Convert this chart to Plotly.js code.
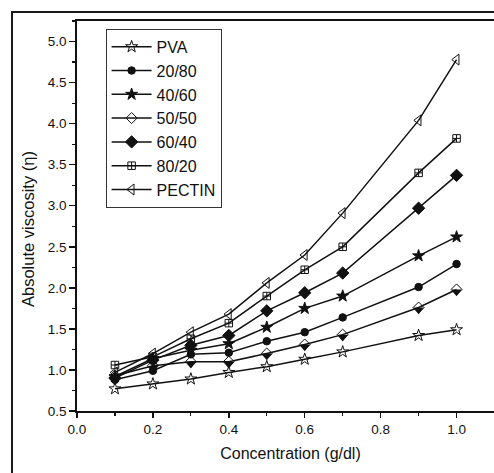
<!DOCTYPE html>
<html>
<head>
<meta charset="utf-8">
<script src="https://cdn.plot.ly/plotly-3.0.1.min.js"></script>
<style>
  html, body { margin: 0; padding: 0; overflow: hidden; background: #fff; width: 494px; height: 473px; }
  #chart { position: absolute; left: 0; top: 0; width: 570px; height: 520px; }
  #frame { position: absolute; left: 11px; top: 11px; width: 600px; height: 600px; border: 2px solid #1a1a1a; pointer-events: none; }
</style>
</head>
<body>
<div id="chart"></div>
<div id="frame"></div>
<script>
// Concentration (g/dl)
const conc = [0.1, 0.2, 0.3, 0.4, 0.5, 0.6, 0.7, 0.9, 1.0];
// Absolute viscosity per blend
const pva    = [0.77, 0.83, 0.89, 0.97, 1.04, 1.13, 1.22, 1.42, 1.49];
const b2080  = [0.88, 0.99, 1.19, 1.21, 1.35, 1.46, 1.64, 2.01, 2.29];
const b4060  = [0.92, 1.14, 1.24, 1.32, 1.52, 1.75, 1.90, 2.39, 2.62];
const b5050  = [0.93, 1.05, 1.10, 1.10, 1.20, 1.31, 1.43, 1.76, 1.98];
const b6040  = [0.90, 1.12, 1.30, 1.42, 1.72, 1.94, 2.18, 2.97, 3.37];
const b8020  = [1.06, 1.16, 1.38, 1.57, 1.90, 2.22, 2.50, 3.40, 3.82];
const pectin = [0.97, 1.20, 1.46, 1.68, 2.06, 2.40, 2.91, 4.04, 4.78];
const seriesNames = ['PVA', '20/80', '40/60', '50/50', '60/40', '80/20', 'PECTIN'];
const xTickLabels = ['0.0', '0.2', '0.4', '0.6', '0.8', '1.0'];
const yTickLabels = ['0.5', '1.0', '1.5', '2.0', '2.5', '3.0', '3.5', '4.0', '4.5', '5.0'];

const FONT = 'Arial, "Liberation Sans", sans-serif';
const BLACK = '#111';

function mk(name, y, symbol, size) {
  return {
    x: conc, y: y, name: name, type: 'scatter', mode: 'lines+markers',
    line: {color: BLACK, width: 1.5},
    marker: {symbol: symbol, size: size, color: BLACK, line: {color: BLACK, width: 1}}
  };
}

const traces = [
  mk(seriesNames[0], pva, 'star-open', 9),
  mk(seriesNames[1], b2080, 'circle', 7.5),
  mk(seriesNames[2], b4060, 'star', 9),
  mk(seriesNames[3], b5050, 'diamond-open', 8.5),
  mk(seriesNames[4], b6040, 'diamond', 9.5),
  mk(seriesNames[5], b8020, 'square-cross-open', 7.5),
  mk(seriesNames[6], pectin, 'triangle-left-open', 9.5)
];
// lower half fill of the 50/50 diamond
traces.push({
  x: conc, y: b5050, type: 'scatter', mode: 'markers', showlegend: false, hoverinfo: 'skip',
  marker: {symbol: 'triangle-down', size: 9, color: BLACK, angle: 0, standoff: 2.3, line: {width: 0}}
});

const layout = {
  width: 570, height: 520,
  margin: {l: 77, r: 66, t: 21, b: 109},
  paper_bgcolor: '#fff', plot_bgcolor: '#fff',
  font: {family: FONT, color: BLACK, size: 13},
  showlegend: true,
  legend: {
    x: 0.067, y: 0.98, xanchor: 'left', yanchor: 'top',
    bordercolor: '#333', borderwidth: 1, bgcolor: '#fff',
    font: {family: FONT, size: 16, color: BLACK},
    itemwidth: 40,
    traceorder: 'normal'
  },
  xaxis: {
    range: [0, 1.125],
    tickvals: [0, 0.2, 0.4, 0.6, 0.8, 1.0], ticktext: xTickLabels,
    ticks: 'outside', ticklen: 5, tickwidth: 1.5, tickcolor: BLACK,
    minor: {dtick: 0.1, tick0: 0, ticks: 'outside', ticklen: 3, tickwidth: 1.2, tickcolor: BLACK},
    showline: true, linecolor: BLACK, linewidth: 1.8, mirror: true,
    showgrid: false, zeroline: false,
    tickfont: {family: FONT, size: 13.5, color: BLACK},
    title: {text: 'Concentration (g/dl)', font: {family: FONT, size: 16, color: BLACK}, standoff: 12}
  },
  yaxis: {
    range: [0.5, 5.25],
    tickvals: [0.5, 1, 1.5, 2, 2.5, 3, 3.5, 4, 4.5, 5], ticktext: yTickLabels,
    ticks: 'outside', ticklen: 6, tickwidth: 1.5, tickcolor: BLACK,
    minor: {dtick: 0.25, tick0: 0.5, ticks: 'outside', ticklen: 3, tickwidth: 1.2, tickcolor: BLACK},
    showline: true, linecolor: BLACK, linewidth: 1.8, mirror: true,
    showgrid: false, zeroline: false,
    tickfont: {family: FONT, size: 13.5, color: BLACK}
  },
  annotations: [{
    text: 'Absolute viscosity (η)', textangle: -90,
    xref: 'paper', yref: 'paper', x: -0.113, y: 0.466,
    xanchor: 'center', yanchor: 'middle', showarrow: false,
    font: {family: FONT, size: 16.5, color: BLACK}
  }]
};

Plotly.newPlot('chart', traces, layout, {displayModeBar: false, staticPlot: true});
</script>
</body>
</html>
